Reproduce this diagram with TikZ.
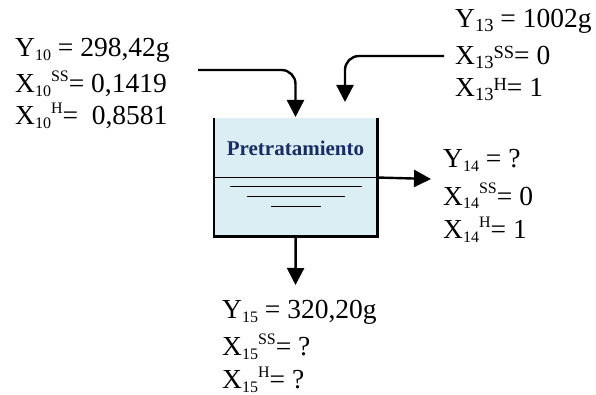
\documentclass[tikz,border=0pt]{standalone}
\usepackage{fontspec}
\setmainfont{Liberation Serif}
\usetikzlibrary{arrows.meta}
\definecolor{tankblue}{RGB}{219,238,243}
\definecolor{navy}{RGB}{23,45,100}
\newcommand{\lo}[1]{\raisebox{-4pt}{\fontsize{16}{16}\selectfont #1}}
\newcommand{\hi}[1]{\raisebox{11pt}{\fontsize{16}{16}\selectfont #1}}
\newcommand{\loB}[1]{\raisebox{-4pt}{\fontsize{18.5}{18.5}\selectfont #1}}
\newcommand{\hiB}[1]{\raisebox{6pt}{\fontsize{18.5}{18.5}\selectfont #1}}
\begin{document}
\begin{tikzpicture}[x=1pt,y=-1pt,
  lbl/.style={anchor=base west, inner sep=0pt, font=\fontsize{27.5}{30}\selectfont},
  flow/.style={line width=2.4pt, -{Triangle[width=17pt,length=17pt]}},
  wall/.style={line width=2.5pt},
  level/.style={line width=1pt}]
\useasboundingbox (0,0) rectangle (596,395);
% tank
\node (tank) [fill=tankblue, minimum width=163pt, minimum height=118pt, inner sep=0pt, anchor=north west] at (214,118) {};
\draw[wall] (tank.north west) -- (tank.south west) -- (tank.south east) -- (tank.north east);
\node (title) [font=\fontsize{21}{24}\selectfont\bfseries, text=navy, inner sep=0pt] at (295.5,148) {Pretratamiento};
\coordinate (lvlL) at (214,177.5);
\coordinate (lvlR) at (377,177.5);
\draw[line width=1.3pt] (lvlL) -- (lvlR);
\coordinate (l1a) at (230,187); \coordinate (l1b) at (362,187);
\coordinate (l2a) at (247,197); \coordinate (l2b) at (345,197);
\coordinate (l3a) at (271,207); \coordinate (l3b) at (321,207);
\draw[level] (l1a) -- (l1b);
\draw[level] (l2a) -- (l2b);
\draw[level] (l3a) -- (l3b);
% arrows
\coordinate (s10) at (198,70);
\coordinate (e10) at (295.5,117);
\draw[flow, rounded corners=14pt] (s10) -| (e10);
\coordinate (s13) at (444,56);
\coordinate (e13) at (345,102);
\draw[flow, rounded corners=14pt] (s13) -| (e13);
\coordinate (e14) at (431,179);
\draw[flow] (lvlR) -- (e14);
\coordinate (e15) at (295.5,285);
\draw[flow] (tank.south) -- (e15);
% labels
\node[lbl] (y10) at (15,57) {Y\lo{10} = 298,42g};
\node[lbl] (xs10) at (15,93) {X\lo{10}\hi{SS}= 0,1419};
\node[lbl] (xh10) at (15,125) {X\lo{10}\hi{H}=\ \ 0,8581};
\node[lbl] (y13) at (455,28) {Y\loB{13} = 1002g};
\node[lbl] (xs13) at (455,65) {X\loB{13}\hiB{SS}= 0};
\node[lbl] (xh13) at (455,97) {X\loB{13}\hiB{H}= 1};
\node[lbl] (y14) at (443,168) {Y\lo{14} = ?};
\node[lbl] (xs14) at (443,205) {X\lo{14}\hi{SS}= 0};
\node[lbl] (xh14) at (443,238) {X\lo{14}\hi{H}= 1};
\node[lbl] (y15) at (222,318) {Y\lo{15} = 320,20g};
\node[lbl] (xs15) at (222,355) {X\lo{15}\hi{SS}= ?};
\node[lbl] (xh15) at (222,388) {X\lo{15}\hi{H}= ?};
\end{tikzpicture}
\end{document}
